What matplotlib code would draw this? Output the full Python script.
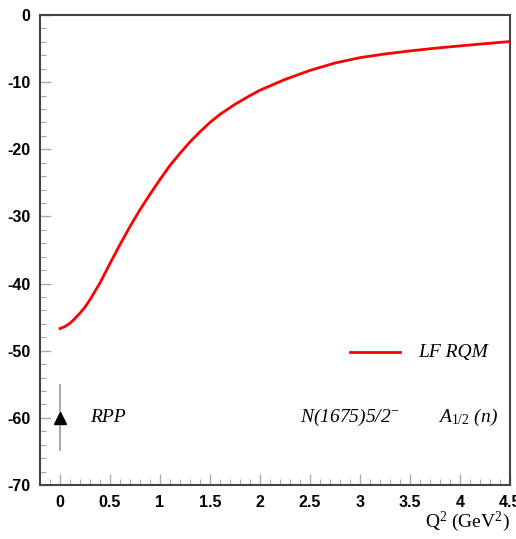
import matplotlib
matplotlib.use("Agg")
import matplotlib.pyplot as plt
from matplotlib.ticker import MultipleLocator, FuncFormatter

plt.rcParams["mathtext.fontset"] = "custom"
plt.rcParams["mathtext.rm"] = "Liberation Serif"
plt.rcParams["mathtext.it"] = "Liberation Serif:italic"

q2 = [0.0, 0.05, 0.1, 0.15, 0.2, 0.25, 0.3, 0.4, 0.5, 0.6, 0.7, 0.8, 0.9, 1.0,
      1.1, 1.2, 1.3, 1.4, 1.5, 1.6, 1.75, 1.9, 2.0, 2.25, 2.5, 2.75, 3.0, 3.25, 3.5,
      3.75, 4.0, 4.25, 4.5]
a12 = [-46.7, -46.4, -45.9, -45.2, -44.4, -43.5, -42.4, -39.9, -37.0, -34.2, -31.5,
       -29.0, -26.7, -24.5, -22.4, -20.6, -18.9, -17.4, -16.0, -14.8, -13.3, -12.0,
       -11.2, -9.6, -8.25, -7.15, -6.35, -5.8, -5.35, -4.95, -4.6, -4.27, -3.95]
rpp_x = [0.0]
rpp_y = [-60.0]
rpp_err = [5.0]

fig = plt.figure(figsize=(5.16, 5.39), dpi=100)
ax = fig.add_axes([40/516, 1-485/539, 470/516, 470/539])

ax.plot(q2, a12, color="#ff0000", lw=2.0)
ax.errorbar(rpp_x, rpp_y, yerr=rpp_err, fmt="^", color="black", ms=8,
            ecolor="#999999", elinewidth=1.2, capsize=0)

ax.set_xlim(-0.2, 4.5)
ax.set_ylim(-70, 0)
ax.xaxis.set_major_locator(MultipleLocator(0.5))
ax.xaxis.set_minor_locator(MultipleLocator(0.1))
ax.yaxis.set_major_locator(MultipleLocator(10))
ax.yaxis.set_minor_locator(MultipleLocator(2))
ax.tick_params(axis="both", which="both", direction="in", top=False, right=False,
               color="#aaaaaa")
ax.tick_params(which="major", length=8, width=1)
ax.tick_params(which="minor", length=4, width=0.8)
ax.tick_params(axis="both", labelsize=11.5, pad=7)
ax.xaxis.set_major_formatter(FuncFormatter(lambda v, p: f"{v:g}"))
ax.yaxis.set_major_formatter(FuncFormatter(lambda v, p: f"{v:g}"))
for lab in ax.get_xticklabels() + ax.get_yticklabels():
    lab.set_fontfamily("Liberation Sans")
    lab.set_fontweight("bold")
for s in ax.spines.values():
    s.set_linewidth(1.5)
    s.set_color("#444444")

serif = dict(family="Liberation Serif", style="italic", fontsize=14)
ax.plot([2.9, 3.4], [-50.2, -50.2], color="#ff0000", lw=2.0)
ax.text(3.58, -50.2, "LF RQM", va="center", ha="left", **serif)
ax.text(0.3, -60, "RPP", va="center", ha="left", **serif)
ax.text(2.4, -60, r"N(1675)5/2$^{\mathit{-}}$", va="center", ha="left", **serif)
ax.text(3.78, -60, r"A$_{\mathit{1/2}}$ (n)", va="center", ha="left", **serif)
fig.text(510/516, 1-522/539, r"Q$^{\mathrm{2}}$ (GeV$^{\mathrm{2}}$)", ha="right", va="center",
         family="Liberation Serif", fontsize=14)

fig.savefig("out.png", dpi=100)
